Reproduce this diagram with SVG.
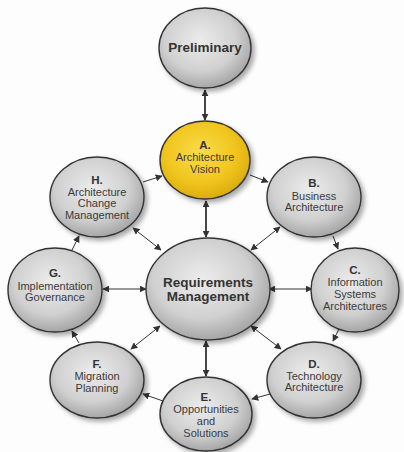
<svg xmlns="http://www.w3.org/2000/svg" width="404" height="452" viewBox="0 0 404 452">
  <defs>
    <radialGradient id="grey" cx="0.45" cy="0.4" r="0.65">
      <stop offset="0" stop-color="#ececec"/>
      <stop offset="0.6" stop-color="#d0d0d0"/>
      <stop offset="1" stop-color="#9c9c9c"/>
    </radialGradient>
    <radialGradient id="gold" cx="0.45" cy="0.4" r="0.65">
      <stop offset="0" stop-color="#f9dc4a"/>
      <stop offset="0.6" stop-color="#f1c51e"/>
      <stop offset="1" stop-color="#d6a70a"/>
    </radialGradient>
    <filter id="shadow" x="-20%" y="-20%" width="150%" height="150%">
      <feGaussianBlur in="SourceAlpha" stdDeviation="2.5"/>
      <feOffset dx="3" dy="3" result="b"/>
      <feComponentTransfer><feFuncA type="linear" slope="0.35"/></feComponentTransfer>
      <feMerge><feMergeNode/><feMergeNode in="SourceGraphic"/></feMerge>
    </filter>
    <marker id="head" viewBox="0 0 10 10" refX="9" refY="5" markerWidth="7" markerHeight="7" markerUnits="userSpaceOnUse" orient="auto-start-reverse">
      <path d="M0,0 L10,5 L0,10 z" fill="#333"/>
    </marker>
  </defs>
  <style>
    .node { stroke: #333; stroke-width: 1.4; filter: url(#shadow); }
    .g { fill: url(#grey); }
    .y { fill: url(#gold); }
    text { font-family: "Liberation Sans", Arial, sans-serif; fill: #3a3a3a; text-anchor: middle; }
    .t { font-size: 11px; }
    .l { font-size: 11.5px; font-weight: bold; fill: #333; }
    .big { font-size: 13.5px; font-weight: bold; fill: #333; }
    .c { stroke: #333; stroke-width: 1; fill: none; marker-end: url(#head); }
    .d { marker-start: url(#head); }
    .v { stroke-width: 1.8; }
  </style>
  <rect width="404" height="452" fill="#fdfdfd"/>

  <g id="connectors">
    <line class="c d v" x1="205" y1="90" x2="205" y2="120"/>
    <line class="c" x1="250" y1="175" x2="268" y2="182"/>
    <line class="c" x1="333" y1="236" x2="338" y2="249"/>
    <line class="c" x1="340" y1="327" x2="333" y2="341"/>
    <line class="c" x1="270" y1="394" x2="252" y2="399"/>
    <line class="c" x1="163" y1="401" x2="143" y2="394"/>
    <line class="c" x1="79" y1="343" x2="72" y2="331"/>
    <line class="c" x1="72" y1="250" x2="79" y2="236"/>
    <line class="c" x1="143" y1="182" x2="162" y2="176"/>
    <line class="c d v" x1="206" y1="201" x2="206" y2="237"/>
    <line class="c d" x1="133" y1="228" x2="161" y2="250"/>
    <line class="c d" x1="280" y1="227" x2="251" y2="250"/>
    <line class="c d" x1="103" y1="289" x2="146" y2="289"/>
    <line class="c d" x1="269" y1="289" x2="312" y2="289"/>
    <line class="c d" x1="131" y1="349" x2="160" y2="326"/>
    <line class="c d" x1="251" y1="326" x2="281" y2="349"/>
    <line class="c d v" x1="206" y1="341" x2="206" y2="376"/>
  </g>

  <g id="preliminary">
    <ellipse class="node g" cx="205" cy="48" rx="46" ry="40"/>
    <text class="big" x="205" y="52">Preliminary</text>
  </g>

  <g id="a-vision">
    <ellipse class="node y" cx="205" cy="160" rx="45" ry="39"/>
    <text class="l" x="205" y="149">A.</text>
    <text class="t" x="205" y="161">Architecture</text>
    <text class="t" x="205" y="173">Vision</text>
  </g>

  <g id="h-change">
    <ellipse class="node g" cx="97" cy="197" rx="47" ry="40"/>
    <text class="l" x="97" y="184">H.</text>
    <text class="t" x="97" y="196">Architecture</text>
    <text class="t" x="97" y="207">Change</text>
    <text class="t" x="97" y="219">Management</text>
  </g>

  <g id="b-business">
    <ellipse class="node g" cx="314" cy="197" rx="47" ry="40"/>
    <text class="l" x="314" y="187">B.</text>
    <text class="t" x="314" y="200">Business</text>
    <text class="t" x="314" y="211">Architecture</text>
  </g>

  <g id="requirements">
    <ellipse class="node g" cx="208" cy="289" rx="62" ry="51"/>
    <text class="big" x="208" y="287">Requirements</text>
    <text class="big" x="208" y="301">Management</text>
  </g>

  <g id="g-governance">
    <ellipse class="node g" cx="55" cy="290" rx="47" ry="42"/>
    <text class="l" x="55" y="277">G.</text>
    <text class="t" x="55" y="290">Implementation</text>
    <text class="t" x="55" y="301">Governance</text>
  </g>

  <g id="c-information">
    <ellipse class="node g" cx="355" cy="290" rx="44" ry="42"/>
    <text class="l" x="355" y="274">C.</text>
    <text class="t" x="355" y="286">Information</text>
    <text class="t" x="355" y="298">Systems</text>
    <text class="t" x="355" y="310">Architectures</text>
  </g>

  <g id="f-migration">
    <ellipse class="node g" cx="97" cy="380" rx="47" ry="38"/>
    <text class="l" x="97" y="368">F.</text>
    <text class="t" x="97" y="380">Migration</text>
    <text class="t" x="97" y="392">Planning</text>
  </g>

  <g id="d-technology">
    <ellipse class="node g" cx="314" cy="380" rx="47" ry="38"/>
    <text class="l" x="314" y="368">D.</text>
    <text class="t" x="314" y="380">Technology</text>
    <text class="t" x="314" y="391">Architecture</text>
  </g>

  <g id="e-opportunities">
    <ellipse class="node g" cx="206" cy="414" rx="46" ry="37"/>
    <text class="l" x="206" y="401">E.</text>
    <text class="t" x="206" y="413">Opportunities</text>
    <text class="t" x="206" y="425">and</text>
    <text class="t" x="206" y="437">Solutions</text>
  </g>
</svg>
